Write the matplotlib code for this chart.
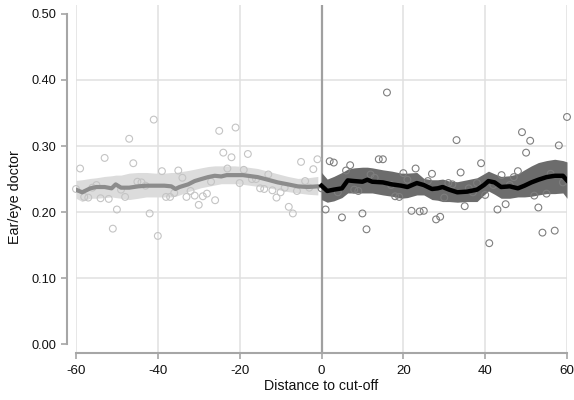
import matplotlib
matplotlib.use("Agg")
import matplotlib.pyplot as plt
import numpy as np

plt.rcParams['font.family'] = ['Liberation Sans', 'DejaVu Sans']
plt.rcParams['axes.unicode_minus'] = False

# ---- scatter (binned means) ----
left_x = list(range(-60, 0))
left_y = [0.235, 0.266, 0.223, 0.222, 0.237, 0.241, 0.221, 0.282, 0.220, 0.175,
          0.204, 0.234, 0.223, 0.311, 0.274, 0.246, 0.245, 0.240, 0.198, 0.340,
          0.164, 0.262, 0.223, 0.223, 0.229, 0.263, 0.252, 0.223, 0.232, 0.225,
          0.211, 0.224, 0.228, 0.246, 0.218, 0.323, 0.290, 0.266, 0.283, 0.328,
          0.244, 0.264, 0.288, 0.250, 0.250, 0.236, 0.235, 0.257, 0.233, 0.222,
          0.230, 0.237, 0.208, 0.198, 0.232, 0.276, 0.247, 0.237, 0.265, 0.280]
right_x = list(range(0, 61))
right_y = [0.236, 0.204, 0.277, 0.275, 0.230, 0.192, 0.263, 0.271, 0.234, 0.232,
           0.198, 0.174, 0.257, 0.252, 0.280, 0.280, 0.381, 0.241, 0.224, 0.223,
           0.259, 0.249, 0.202, 0.266, 0.201, 0.202, 0.247, 0.258, 0.189, 0.193,
           0.222, 0.244, 0.242, 0.309, 0.260, 0.209, 0.236, 0.230, 0.244, 0.274,
           0.226, 0.153, 0.241, 0.204, 0.256, 0.212, 0.241, 0.253, 0.262, 0.321,
           0.290, 0.308, 0.225, 0.207, 0.169, 0.228, 0.258, 0.172, 0.301, 0.245,
           0.344]

# ---- local fit (left of cut-off) ----
fitL_x = [-60, -58.5, -56.5, -55, -53, -51.3, -50.3, -49, -47, -44.8, -42.8, -40.7,
          -38.4, -36.7, -35.7, -34.7, -32.6, -31, -29.4, -27.7, -26.1, -24.5, -23.2,
          -21.2, -19.2, -18, -15.6, -13.1, -10.7, -8.2, -5.8, -3.3, -0.9]
fitL_y = [0.234, 0.230, 0.236, 0.238, 0.238, 0.236, 0.242, 0.237, 0.237, 0.239, 0.240, 0.240,
          0.240, 0.239, 0.235, 0.238, 0.242, 0.247, 0.250, 0.253, 0.255, 0.254, 0.256,
          0.256, 0.256, 0.255, 0.253, 0.249, 0.245, 0.242, 0.239, 0.238, 0.239]
fitL_hi = [0.248, 0.249, 0.251, 0.252, 0.254, 0.255, 0.256, 0.256, 0.259, 0.260, 0.260, 0.259,
           0.259, 0.260, 0.260, 0.261, 0.263, 0.265, 0.267, 0.269, 0.270, 0.270, 0.270,
           0.270, 0.269, 0.268, 0.266, 0.262, 0.258, 0.254, 0.251, 0.252, 0.254]
fitL_lo = [0.221, 0.216, 0.221, 0.221, 0.222, 0.223, 0.222, 0.221, 0.219, 0.221, 0.223, 0.223,
           0.223, 0.223, 0.224, 0.226, 0.231, 0.234, 0.237, 0.239, 0.241, 0.243, 0.243,
           0.243, 0.242, 0.241, 0.239, 0.237, 0.234, 0.231, 0.229, 0.227, 0.226]

# ---- local fit (right of cut-off) ----
fitR_x = [0, 1.4, 3, 5, 6.4, 8, 10, 11.2, 12.4, 15, 17.2, 19.5, 21, 23.3, 25, 27, 28.4,
          29.6, 31.2, 33.2, 35.6, 38, 39.7, 40.8, 42.3, 43.9, 46, 48, 49.6, 51.3, 53,
          55, 57, 59, 60]
fitR_y = [0.240, 0.232, 0.234, 0.236, 0.248, 0.247, 0.246, 0.249, 0.246, 0.245, 0.242,
          0.240, 0.238, 0.244, 0.241, 0.235, 0.236, 0.238, 0.234, 0.230, 0.231, 0.234,
          0.241, 0.247, 0.245, 0.238, 0.239, 0.236, 0.240, 0.245, 0.249, 0.253, 0.255,
          0.255, 0.248]
fitR_hi = [0.260, 0.250, 0.254, 0.260, 0.265, 0.267, 0.268, 0.268, 0.267, 0.264, 0.262,
           0.259, 0.259, 0.260, 0.251, 0.249, 0.249, 0.250, 0.247, 0.246, 0.249, 0.252,
           0.258, 0.262, 0.258, 0.254, 0.255, 0.258, 0.264, 0.270, 0.275, 0.278, 0.280,
           0.278, 0.276]
fitR_lo = [0.219, 0.215, 0.217, 0.222, 0.229, 0.229, 0.229, 0.229, 0.229, 0.226, 0.224,
           0.221, 0.222, 0.226, 0.226, 0.219, 0.218, 0.216, 0.216, 0.215, 0.216, 0.216,
           0.226, 0.232, 0.227, 0.221, 0.221, 0.223, 0.223, 0.224, 0.226, 0.228, 0.228,
           0.229, 0.221]

xticks = [-60, -40, -20, 0, 20, 40, 60]
yticks = [0.0, 0.1, 0.2, 0.3, 0.4, 0.5]
ytick_labels = ["0.00", "0.10", "0.20", "0.30", "0.40", "0.50"]

fig = plt.figure(figsize=(5.74, 4.0), dpi=100)
ax = fig.add_axes([76/574, 46.7/400, 491/574, 348.3/400])
ax.set_xlim(-60, 60)
ax.set_ylim(-0.0136, 0.5134)

grid_c = '#e0e0e0'
axis_c = '#a6a6a6'
for yv in yticks[1:-1]:
    ax.axhline(yv, color=grid_c, lw=1.1, zorder=0)
for xv in xticks:
    if xv != 0:
        ax.axvline(xv, color=grid_c, lw=1.1, zorder=0)
ax.axvline(0, color='#a0a0a0', lw=1.6, zorder=1)

# left
ax.fill_between(fitL_x, fitL_lo, fitL_hi, color='#dcdcdc', lw=0, zorder=2)
ax.scatter(left_x, left_y, s=24, facecolors='none', edgecolors='#c4c4c4',
           linewidths=0.8, zorder=3, clip_on=False)
ax.plot(fitL_x, fitL_y, color='#8c8c8c', lw=3.0, zorder=4, solid_joinstyle='round')

# right
ax.fill_between(fitR_x, fitR_lo, fitR_hi, color='#6c6c6c', lw=0, zorder=2)
ax.scatter(right_x, right_y, s=24, facecolors='none', edgecolors='#7e7e7e',
           linewidths=0.8, zorder=3, clip_on=False)
ax.plot(fitR_x, fitR_y, color='black', lw=3.2, zorder=4, solid_joinstyle='round')

# axes styling
for s in ['top', 'right']:
    ax.spines[s].set_visible(False)
ax.spines['left'].set_position(('outward', 6.7))
ax.spines['left'].set_bounds(0, 0.5)
ax.spines['bottom'].set_bounds(-60, 60)
for s in ['left', 'bottom']:
    ax.spines[s].set_color(axis_c)
    ax.spines[s].set_linewidth(1.5)

ax.set_xticks(xticks)
ax.set_xticklabels([str(v) for v in xticks])
ax.set_yticks(yticks)
ax.set_yticklabels(ytick_labels)
ax.tick_params(axis='both', colors=axis_c, length=4, width=1.2,
               labelcolor='#111111')
ax.tick_params(axis='y', pad=3.5, labelsize=9.2)
ax.tick_params(axis='x', pad=4.5, labelsize=9.6)

fig.text(321/574, 1 - 386/400, "Distance to cut-off", ha='center', va='center',
         fontsize=10.2, color='#111111')
fig.text(15/574, 1 - 197/400, "Ear/eye doctor", ha='center', va='center',
         rotation=90, fontsize=10.4, color='#111111')

fig.savefig("out.png", dpi=100)
